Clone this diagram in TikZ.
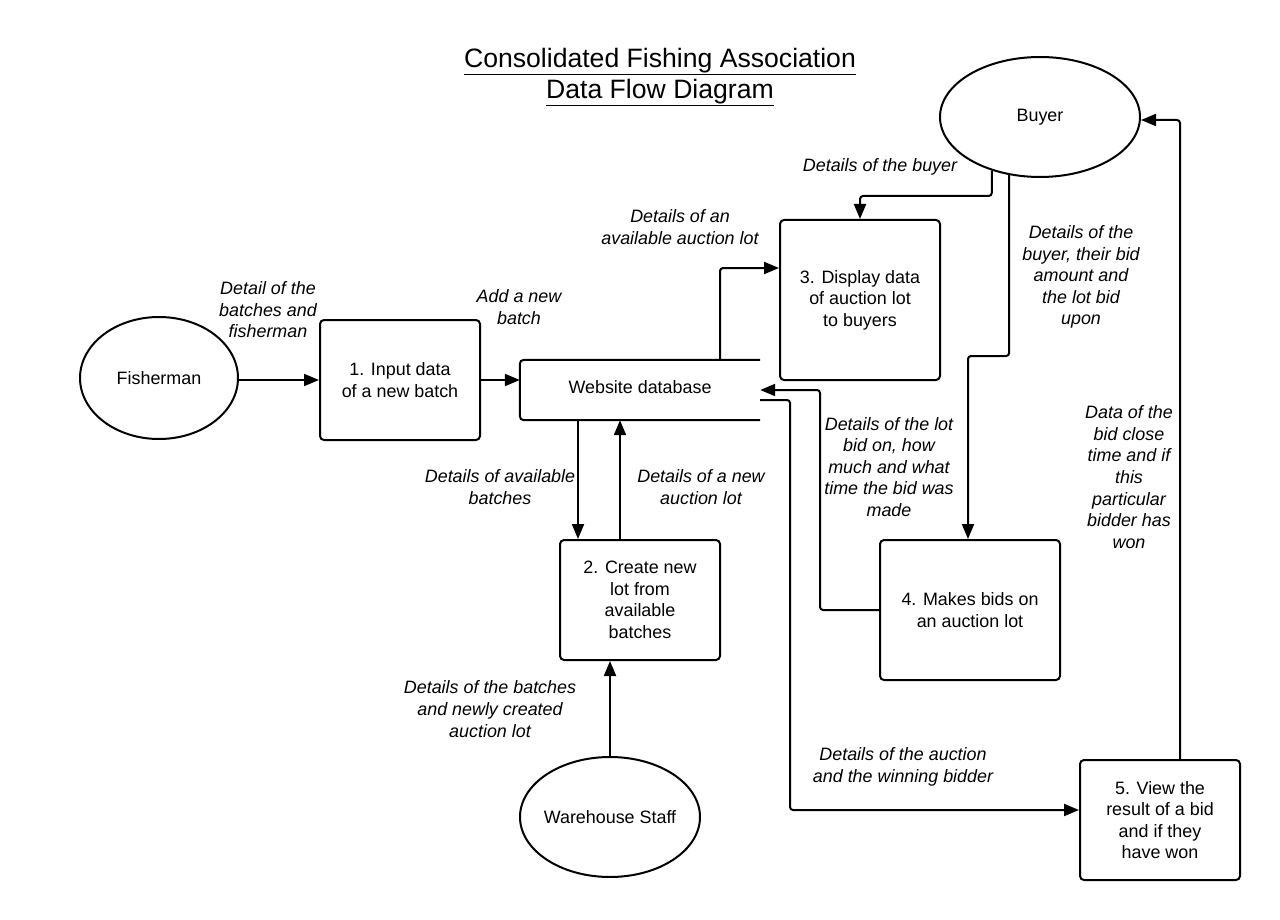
\documentclass[tikz,border=0pt]{standalone}
\usepackage{fontspec}
\setmainfont{Liberation Sans}
\usetikzlibrary{arrows.meta,shapes.geometric}
\begin{document}
\begin{tikzpicture}[x=1pt,y=-1pt,
  every node/.style={font=\fontsize{17.9}{21.6}\selectfont},
  proc/.style={draw,line width=2pt,rounded corners=4pt,align=center,inner sep=2pt},
  ent/.style={draw,line width=2pt,ellipse,inner sep=0pt},
  flow/.style={line width=2pt,rounded corners=3pt,-{Triangle[length=15pt,width=12pt]}},
  lbl/.style={align=center,font=\fontsize{17.9}{21.6}\selectfont\itshape,inner sep=0pt}]
\useasboundingbox (0,0) rectangle (1280,920);
\fill[white] (0,0) rectangle (1280,920);

% title
\node[font=\fontsize{26.6}{31.5}\selectfont,align=center] (title) at (660,77)
  {\underline{Consolidated Fishing Association}\\\underline{Data Flow Diagram}};

% entities
\node[ent,minimum width=158pt,minimum height=122pt] (fisher) at (159,378) {Fisherman};
\node[ent,minimum width=200pt,minimum height=120pt] (buyer) at (1040,117) {Buyer};
\node[ent,minimum width=180pt,minimum height=120pt] (ws) at (610,817) {};
\node (wst) at (610,817) {Warehouse Staff};

% processes
\node[proc,minimum width=160pt,minimum height=120pt] (p1) at (400,380) {1. Input data\\of a new batch};
\node[proc,minimum width=160pt,minimum height=120pt] (p2) at (640,600) {2. Create new\\lot from\\available\\batches};
\node[proc,minimum width=160pt,minimum height=160pt] (p3) at (860,300) {3. Display data\\of auction lot\\to buyers};
\node[proc,minimum width=180pt,minimum height=140pt] (p4) at (970,610) {4. Makes bids on\\an auction lot};
\node[proc,minimum width=160pt,minimum height=120pt] (p5) at (1160,820) {5. View the\\result of a bid\\and if they\\have won};

% data store
\node[minimum width=240pt,minimum height=60pt,inner sep=0pt] (db) at (640,390) {};
\node at (640,387) (dbt) {Website database};
\draw[line width=2pt,rounded corners=4pt] (db.north east) -- (db.north west) -- (db.south west) -- (db.south east);

% bend coordinates
\coordinate (c1) at (720,268);
\coordinate (c2) at (860,196);
\coordinate (c3) at (968,356);
\coordinate (c4) at (820,390);
\coordinate (c5) at (790,810);
\coordinate (c6) at (1180,120);
\coordinate (a1) at (578,0);
\coordinate (a2) at (620,0);

% flows
\draw[flow] (fisher.east |- p1.west) -- (p1.west);
\draw[flow] (p1.east) -- (p1.east -| db.west);
\draw[flow] (a1 |- db.south) -- (a1 |- p2.north);
\draw[flow] (a2 |- p2.north) -- (a2 |- db.south);
\draw[flow] (ws.north) -- (ws.north |- p2.south);
\draw[flow] (c1 |- db.north) -- (c1) -- (c1 -| p3.west);
\draw[flow] (buyer.-132) |- (c2) -- (p3.north);
\draw[flow] (buyer.-118) |- (c3) -- (c3 |- p4.north);
\draw[flow] (p4.west) -| (c4) -- (db.east);
\draw[flow] ([yshift=-10pt]db.east) -| (c5) -- (c5 -| p5.west);
\draw[flow] (c6 |- p5.north) -- (c6) -- (c6 -| buyer.east);

% labels
\node[lbl] (l1) at (268,310) {Detail of the\\batches and\\fisherman};
\node[lbl] (l2) at (519,307) {Add a new\\batch};
\node[lbl] (l3) at (680,227) {Details of an\\available auction lot};
\node[lbl] (l4) at (880,167) {Details of the buyer};
\node[lbl] (l5) at (1081,277) {Details of the\\buyer, their bid\\amount and\\the lot bid\\upon};
\node[lbl] (l6) at (889,467) {Details of the lot\\bid on, how\\much and what\\time the bid was\\made};
\node[lbl] (l7) at (1129,477) {Data of the\\bid close\\time and if\\this\\particular\\bidder has\\won};
\node[lbl] (l8) at (500,487) {Details of available\\batches};
\node[lbl] (l9) at (701,487) {Details of a new\\auction lot};
\node[lbl] (l10) at (490,709) {Details of the batches\\and newly created\\auction lot};
\node[lbl] (l11) at (903,767) {Details of the auction\\and the winning bidder};
\end{tikzpicture}
\end{document}
